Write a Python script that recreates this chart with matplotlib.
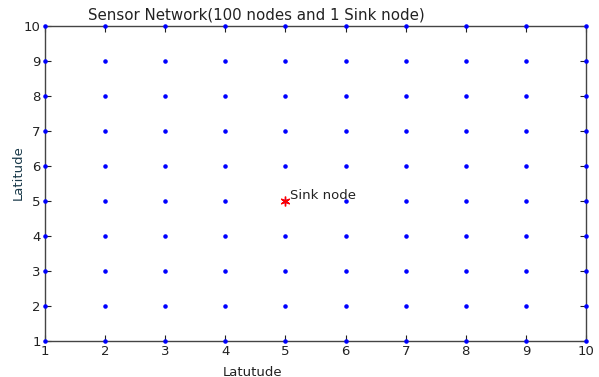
import matplotlib
matplotlib.use("Agg")
import matplotlib.pyplot as plt
import numpy as np

x_nodes = [1, 2, 3, 4, 5, 6, 7, 8, 9, 10]
y_nodes = [1, 2, 3, 4, 5, 6, 7, 8, 9, 10]
sink_x = [5]
sink_y = [5]
ticks = [1, 2, 3, 4, 5, 6, 7, 8, 9, 10]

plt.rcParams['font.family'] = ['DejaVu Sans']

fig = plt.figure(figsize=(5.99, 3.77), dpi=100)
ax = fig.add_axes([45/599, 36/377, 541/599, 315/377])

X, Y = np.meshgrid(x_nodes, y_nodes)
ax.plot(X.ravel(), Y.ravel(), '.', color='#0000ff', markersize=4.5, clip_on=False, zorder=3)
ax.plot(sink_x, sink_y, marker=(6, 2, 0), linestyle='none', color='red',
        markersize=7, markeredgewidth=1.0, clip_on=False, zorder=4)
ax.text(5.08, 4.98, 'Sink node', fontsize=9.5, ha='left', va='bottom', color='#222222')

ax.set_xlim(1, 10)
ax.set_ylim(1, 10)
ax.set_xticks(ticks)
ax.set_yticks(ticks)
ax.tick_params(direction='in', top=True, right=True, length=4, width=0.8,
               labelsize=9.5, colors='#222222', pad=3)
for s in ax.spines.values():
    s.set_color('#444444')
    s.set_linewidth(1.0)

fig.text(256/599, 1 - 15/377, 'Sensor Network(100 nodes and 1 Sink node)',
         ha='center', va='center', fontsize=10.8, color='#222222')
fig.text(253/599, 1 - 372/377, 'Latutude', ha='center', va='center', fontsize=9.5, color='#222222')
fig.text(18/599, 1 - 173/377, 'Latitude', ha='center', va='center', rotation=90,
         fontsize=9.5, color='#1a3a4a')

fig.savefig('out.png', dpi=100)
